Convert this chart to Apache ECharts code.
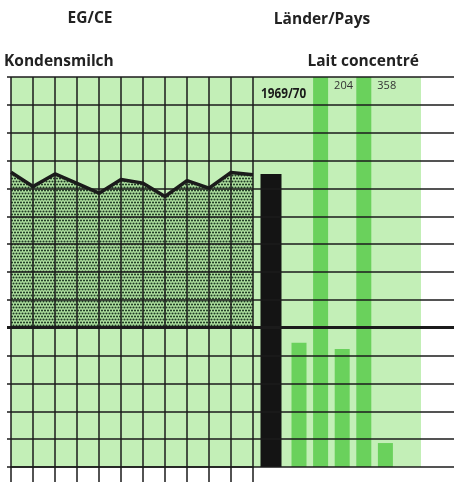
<!DOCTYPE html>
<html>
<head>
<meta charset="utf-8">
<script src="https://cdn.jsdelivr.net/npm/echarts@6/dist/echarts.min.js"></script>
<style>
  html, body { margin: 0; padding: 0; background: #fff; }
  #chart { width: 454px; height: 482px; }
</style>
</head>
<body>
<div id="chart"></div>
<script>
    // EG/CE: Index Kondensmilch, Jahre 1958-1969
    const years = ['1958', '1959', '1960', '1961', '1962', '1963', '1964', '1965', '1966', '1967', '1968', '1969'];
    const egIndex = [155.8, 150.7, 155.2, 151.8, 148.3, 153.2, 151.9, 147.1, 152.8, 150.1, 155.7, 154.9];

    // 1969/70: EG-Balken und Länder
    const egYear = ['1969/70'];
    const egBar = [155.2];
    const countries = ['D', 'F', 'I', 'NL', 'UEBL'];
    const countryValues = [94.6, 204, 92.4, 358, 58.6];

    // Achse
    const yMin = 50;
    const yMax = 190;
    const yStep = 10;
    const baseLine = 100;

    const lineCol = '#1b1b1b';
    const lightGreen = '#c3efb7';
    const barGreen = '#6ad15c';

    // Punktraster für die Fläche
    function dotPattern() {
        let c = document.createElement('canvas');
        c.width = 6;
        c.height = 6;
        let ctx = c.getContext('2d');
        ctx.fillStyle = '#b0e2a0';
        ctx.fillRect(0, 0, 6, 6);
        ctx.fillStyle = '#1f3a24';
        [[1.5, 1.5], [4.5, 1.5], [0, 4.5], [3, 4.5], [6, 4.5]].forEach(p => {
            ctx.beginPath();
            ctx.arc(p[0], p[1], 1.05, 0, Math.PI * 2);
            ctx.fill();
        });
        return c;
    }

    function yAxisFor(gridIndex, extra) {
        return Object.assign({
            type: 'value', gridIndex: gridIndex,
            min: yMin, max: yMax, interval: yStep,
            axisLabel: { show: false }, axisTick: { show: false },
            axisLine: { show: false }, splitLine: { show: false }
        }, extra || {});
    }

    const gTop = 77;
    const gHeight = 390;
    const titleFont = 'bold 15.5px "Open Sans"';

    let myChart = echarts.init(document.getElementById('chart'), null, { renderer: 'canvas' });

    let option = {
        animation: false,
        grid: [
            { left: 7, right: 0, top: gTop, height: gHeight },                    // Rahmen
            { left: 11, width: 410, top: gTop, height: gHeight, show: true,
              backgroundColor: lightGreen, borderWidth: 0, z: 0 },                // Hintergrund
            { left: 11, width: 242, top: gTop, height: gHeight },                 // EG Linie
            { left: 260.5, width: 21, top: gTop, height: gHeight },               // EG 1969/70
            { left: 288.2, width: 108, top: gTop, height: gHeight }               // Länder
        ],
        xAxis: [
            { type: 'value', gridIndex: 0, show: false },
            { type: 'value', gridIndex: 1, show: false },
            {
                type: 'category', gridIndex: 2, data: years, boundaryGap: false, z: 5,
                axisLabel: { show: false, interval: 0 },
                axisLine: { show: true, lineStyle: { color: lineCol, width: 1.5 } },
                axisTick: { show: true, interval: 0, length: 15, lineStyle: { color: lineCol, width: 1.5 } },
                splitLine: { show: true, interval: 0, lineStyle: { color: lineCol, width: 1.5 } }
            },
            { type: 'category', gridIndex: 3, data: egYear, show: false },
            { type: 'category', gridIndex: 4, data: countries, show: false }
        ],
        yAxis: [
            yAxisFor(0, { z: 5, splitLine: { show: true, lineStyle: { color: lineCol, width: 1.5 } } }),
            yAxisFor(1),
            yAxisFor(2),
            yAxisFor(3),
            yAxisFor(4)
        ],
        graphic: [
            { type: 'text', x: 90, y: 19, style: { text: 'EG/CE', align: 'center', verticalAlign: 'middle', font: titleFont, fill: '#222' } },
            { type: 'text', x: 322, y: 20, style: { text: 'Länder/Pays', align: 'center', verticalAlign: 'middle', font: titleFont, fill: '#222' } },
            { type: 'text', x: 4, y: 62, style: { text: 'Kondensmilch', align: 'left', verticalAlign: 'middle', font: titleFont, fill: '#222' } },
            { type: 'text', x: 419, y: 62, style: { text: 'Lait concentré', align: 'right', verticalAlign: 'middle', font: titleFont, fill: '#222' } },
            { type: 'text', x: 261, y: 94, z: 10, scaleX: 0.84, style: { text: egYear[0], align: 'left', verticalAlign: 'middle', font: 'bold 14px "Open Sans"', fill: '#1a1a1a' } }
        ],
        series: [
            {
                // dicke Linie bei 100
                type: 'line', xAxisIndex: 0, yAxisIndex: 0, data: [], z: 6,
                markLine: {
                    silent: true, symbol: ['none', 'none'], label: { show: false },
                    lineStyle: { color: lineCol, width: 3, type: 'solid' },
                    data: [{ yAxis: baseLine }]
                }
            },
            {
                type: 'line', xAxisIndex: 2, yAxisIndex: 2, data: egIndex, z: 1,
                symbol: 'none',
                lineStyle: { color: lineCol, width: 3.5 },
                areaStyle: { origin: baseLine, opacity: 1, color: { image: dotPattern(), repeat: 'repeat' } }
            },
            {
                type: 'bar', xAxisIndex: 3, yAxisIndex: 3, data: egBar, z: 1,
                barWidth: '100%',
                itemStyle: { color: '#141414' }
            },
            {
                type: 'bar', xAxisIndex: 4, yAxisIndex: 4, z: 1,
                barWidth: 15,
                itemStyle: { color: barGreen },
                data: countryValues.map(v => ({
                    value: v,
                    label: {
                        show: v > yMax, position: ['100%', 3], offset: [6, 0],
                        formatter: '{c}', fontSize: 11, color: '#333', fontFamily: 'Open Sans'
                    }
                }))
            }
        ]
    };

    myChart.setOption(option);
</script>
</body>
</html>
